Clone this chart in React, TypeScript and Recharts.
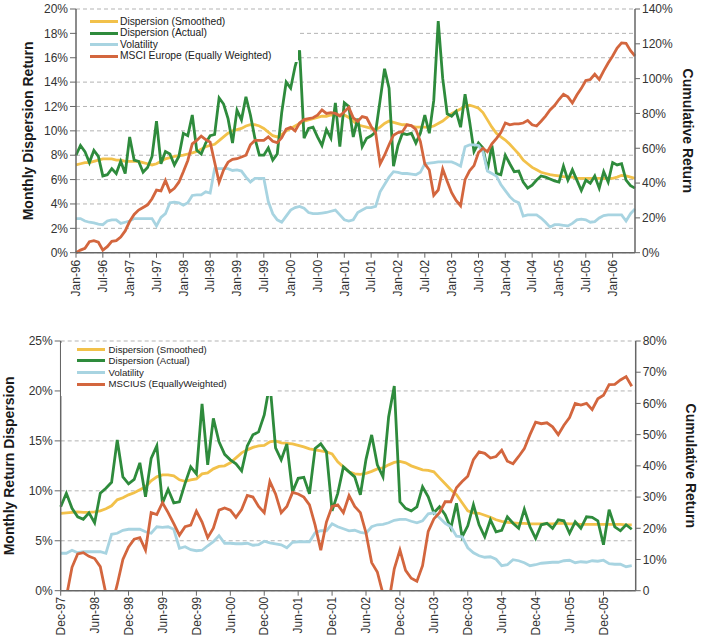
import React from 'react';
import { LineChart, Line, XAxis, YAxis, CartesianGrid, Legend } from 'recharts';

const FONT = '"Liberation Sans", Arial, Helvetica, sans-serif';
const C_SMOOTH = '#F2C14A';
const C_ACTUAL = '#2E8B3C';
const C_VOL = '#A8D4E1';
const C_MSCI = '#D3663E';
const SERIES_COLORS = [C_SMOOTH, C_ACTUAL, C_VOL, C_MSCI];
const AXIS = '#666';
const GRID = '#b3b3b3';
const LW = 2.8;

// ---------- Top chart (Europe) ----------
const topTickLabels = ['Jan-96','Jul-96','Jan-97','Jul-97','Jan-98','Jul-98','Jan-99','Jul-99','Jan-00','Jul-00','Jan-01','Jul-01','Jan-02','Jul-02','Jan-03','Jul-03','Jan-04','Jul-04','Jan-05','Jul-05','Jan-06'];
const topLeftTicks = [0, 2, 4, 6, 8, 10, 12, 14, 16, 18, 20];
const topRightTicks = [0, 20, 40, 60, 80, 100, 120, 140];
const topNames = ['Dispersion (Smoothed)', 'Dispersion (Actual)', 'Volatility', 'MSCI Europe (Equally Weighted)'];

const topSmoothed = [
  7.2, 7.3, 7.4, 7.4, 7.5, 7.6, 7.7, 7.7, 7.7, 7.6, 7.6, 7.5,
  7.5, 7.5, 7.5, 7.4, 7.3, 7.2, 7.3, 7.5, 7.7, 7.8, 7.9, 7.95,
  8.0, 8.1, 8.2, 8.3, 8.5, 8.7, 8.8, 8.9, 9.2, 9.5, 9.8, 10.0,
  10.1, 10.2, 10.4, 10.5, 10.5, 10.4, 10.2, 9.9, 9.6, 9.5, 9.7, 10.0,
  10.2, 10.4, 10.6, 10.8, 10.9, 11.0, 11.1, 11.2, 11.2, 11.3, 11.3, 11.3,
  11.3, 11.1, 10.8, 10.5, 10.4, 10.3, 10.2, 10.1, 10.3, 10.6, 10.8, 10.7,
  10.6, 10.5, 10.5, 10.4, 10.3, 10.3, 10.3, 10.3, 10.4, 10.6, 10.8, 11.1,
  11.4, 11.6, 11.8, 12.0, 12.1, 12.0, 11.85, 11.5, 10.9, 10.3, 9.8, 9.5,
  9.25, 8.9, 8.5, 8.1, 7.6, 7.3, 7.0, 6.8, 6.6, 6.5, 6.4, 6.35,
  6.3, 6.25, 6.2, 6.2, 6.1, 6.1, 6.1, 6.1, 6.1, 6.1, 6.1, 6.1,
  6.1, 6.2, 6.35, 6.3, 6.2, 6.1,
];
const topActual = [
  8.0, 8.8, 8.3, 7.4, 8.4, 7.9, 6.3, 6.4, 6.9, 6.5, 7.5, 6.5,
  9.5, 7.6, 7.5, 6.6, 7.0, 7.9, 10.8, 7.3, 8.3, 8.1, 7.2, 7.9,
  9.8, 9.6, 11.3, 8.4, 8.1, 9.0, 9.6, 9.7, 12.7, 12.2, 11.0, 9.0,
  11.7, 10.9, 12.8, 11.3, 9.4, 8.0, 8.0, 8.6, 7.6, 8.1, 11.5, 14.0,
  13.5, 15.3, 16.6, 9.4, 10.2, 10.3, 9.5, 8.8, 10.1, 9.4, 12.3, 8.7,
  12.3, 12.0, 9.5, 11.0, 8.7, 9.4, 9.6, 9.9, 12.5, 15.1, 13.5, 7.1,
  8.8, 9.8, 9.7, 9.8, 9.0, 9.8, 11.3, 9.8, 12.5, 19.0, 14.3, 11.4,
  11.2, 11.6, 10.3, 13.0, 10.8, 8.3, 9.0, 8.6, 6.8, 8.8, 6.5, 6.4,
  8.0, 7.3, 6.65, 6.7, 5.8, 5.3, 5.55, 5.96, 6.3, 6.2, 6.05, 5.9,
  5.8, 7.1, 5.96, 6.8, 5.96, 5.1, 5.96, 5.7, 6.3, 5.3, 6.65, 5.8,
  7.4, 7.2, 7.3, 5.96, 5.5, 5.3,
];
const topVolatility = [
  2.8, 2.8, 2.6, 2.5, 2.45, 2.35, 2.3, 2.6, 2.7, 2.7, 2.4, 2.5,
  2.6, 2.8, 2.8, 2.8, 2.8, 2.8, 2.2, 2.9, 3.2, 4.1, 4.15, 4.1,
  3.9, 4.1, 4.7, 4.75, 4.75, 5.0, 4.9, 6.9, 6.9, 6.9, 6.9, 6.75,
  6.8, 6.7, 6.2, 5.8, 6.1, 6.1, 6.1, 4.2, 3.2, 2.7, 2.5, 3.0,
  3.5, 3.7, 3.8, 3.65, 3.3, 3.2, 3.2, 3.25, 3.3, 3.4, 3.5, 3.1,
  2.7, 2.6, 2.7, 3.3, 3.5, 3.7, 3.7, 3.8, 5.0, 5.6, 6.2, 6.65,
  6.6, 6.5, 6.5, 6.45, 6.4, 6.6, 7.3, 7.35, 7.4, 7.45, 7.45, 7.45,
  7.45, 7.3, 7.1, 8.7, 8.85, 8.85, 8.8, 8.3, 6.7, 6.5, 6.3, 5.6,
  5.1, 4.6, 4.25, 4.1, 3.0, 3.1, 3.1, 3.1, 2.85, 2.5, 2.1, 2.3,
  2.3, 2.25, 2.2, 2.4, 2.7, 2.75, 2.7, 2.5, 2.55, 2.85, 3.05, 3.1,
  3.1, 3.1, 3.1, 2.6, 3.2, 3.6,
];
const topMsci = [
  0, 1.5, 2.5, 6.3, 6.9, 6.0, 1.5, 3.5, 6.5, 6.9, 9.0, 12.5,
  18, 22, 24.5, 26, 27.5, 31, 36, 35.5, 41.5, 35, 37, 40.5,
  46.5, 53, 62.5, 64.5, 67, 65, 63.5, 52, 40.5, 47.5, 52, 53.6,
  54, 55, 56, 62, 64.5, 64.5, 64.5, 66.5, 64, 63.2, 66, 71,
  72, 70, 74.5, 76.5, 77, 77.5, 79, 82, 80, 80.5, 80, 78.5,
  81, 83.5, 77.5, 75.5, 78.2, 77.5, 72.5, 69, 51, 56, 62, 67.5,
  69, 69.5, 73.5, 73, 70.8, 64, 51, 47.5, 33, 36, 48, 41,
  34.5, 30, 27, 42, 47, 50, 57.5, 60, 58, 62.5, 65.5, 69,
  74.5, 73.5, 74, 74, 74.5, 76, 73.5, 72.8, 75.5, 78.5, 82, 84.5,
  88, 91, 89.5, 86, 90.6, 94.4, 98.9, 99.5, 102.5, 99.5, 104.5, 109,
  113, 117.5, 120.5, 120.3, 116, 113,
];

// ---------- Bottom chart (US) ----------
const botTickLabels = ['Dec-97','Jun-98','Dec-98','Jun-99','Dec-99','Jun-00','Dec-00','Jun-01','Dec-01','Jun-02','Dec-02','Jun-03','Dec-03','Jun-04','Dec-04','Jun-05','Dec-05'];
const botLeftTicks = [0, 5, 10, 15, 20, 25];
const botRightTicks = [0, 10, 20, 30, 40, 50, 60, 70, 80];
const botNames = ['Dispersion (Smoothed)', 'Dispersion (Actual)', 'Volatility', 'MSCIUS (EquallyWeighted)'];

const botSmoothed = [
  7.75, 7.8, 7.85, 7.9, 7.85, 7.85, 7.9, 8.0, 8.2, 8.5, 9.1, 9.3,
  9.6, 9.8, 10.1, 10.4, 11.0, 11.4, 11.6, 11.6, 11.5, 11.1, 10.95, 11.1,
  11.2, 11.7, 11.8, 12.2, 12.45, 12.5, 12.8, 13.3, 13.8, 14.1, 14.35, 14.5,
  14.55, 14.9, 15.0, 14.8, 14.75, 14.7, 14.55, 14.4, 14.2, 14.1, 14.0, 13.9,
  13.7, 12.9, 12.4, 11.9, 11.7, 11.65, 11.75, 11.95, 12.2, 12.3, 12.6, 12.85,
  12.95, 12.8, 12.5, 12.3, 12.1, 12.05, 11.9, 11.3, 10.7, 10.1, 9.6, 8.8,
  8.0, 7.8, 7.75, 7.55, 7.35, 7.1, 6.95, 6.85, 6.8, 6.75, 6.75, 6.7,
  6.7, 6.7, 6.7, 6.7, 6.75, 6.75, 6.7, 6.7, 6.65, 6.65, 6.65, 6.65,
  6.65, 6.65, 6.65, 6.65, 6.6, 6.6,
];
const botActual = [
  8.4, 9.75, 8.25, 7.4, 7.15, 7.8, 6.8, 9.75, 10.25, 10.85, 15.1, 11.4,
  10.7, 11.15, 12.8, 9.4, 13.25, 14.5, 8.75, 10.15, 8.8, 8.9, 10.75, 12.4,
  11.7, 18.7, 12.6, 17.25, 14.9, 13.65, 13.1, 12.7, 12.0, 14.5, 15.6, 15.9,
  17.6, 20.8, 14.3, 13.1, 14.7, 9.9, 11.25, 11.35, 9.7, 14.25, 14.7, 13.9,
  8.0, 9.75, 12.4, 11.9, 11.4, 9.6, 13.15, 15.6, 12.6, 11.4, 17.4, 20.5,
  8.9, 8.25, 8.0, 8.4, 10.4, 9.4, 7.8, 8.4, 7.6, 6.25, 8.75, 5.4,
  6.5, 8.6, 6.6, 5.4, 7.1, 5.9, 6.05, 7.4, 6.75, 6.25, 8.15, 6.4,
  5.25, 6.6, 6.75, 6.25, 7.1, 7.0, 5.75, 6.9, 6.25, 7.4, 7.35, 7.0,
  4.6, 8.1, 6.4, 6.0, 6.6, 6.15,
];
const botVolatility = [
  3.75, 3.75, 4.05, 3.8, 3.9, 3.9, 3.9, 3.9, 3.75, 5.65, 5.75, 6.05,
  6.15, 6.15, 6.15, 5.9, 5.75, 6.4, 6.35, 6.4, 6.15, 4.25, 4.4, 4.1,
  4.0, 4.05, 4.5, 4.9, 5.5, 4.75, 4.75, 4.7, 4.7, 4.75, 4.55, 4.6,
  4.95, 4.8, 4.7, 4.6, 4.3, 4.85, 4.9, 4.9, 4.9, 5.8, 6.0, 6.0,
  6.7, 6.4, 6.2, 6.0, 6.05, 5.85, 5.75, 6.4, 6.6, 6.65, 6.8, 7.05,
  7.15, 7.15, 6.95, 6.8, 7.0, 7.7, 7.8, 7.3, 6.75, 6.4, 5.45, 5.4,
  4.3, 3.8, 3.5, 3.35, 3.4, 3.15, 2.5, 2.6, 3.1, 3.0, 2.8, 2.5,
  2.6, 2.75, 2.8, 2.85, 2.85, 3.0, 3.05, 2.8, 2.9, 2.85, 3.0, 2.95,
  3.05, 2.7, 2.65, 2.65, 2.4, 2.5,
];
const botMsci = [
  -5, -2, 7.5, 11.8, 12.2, 11, 10.3, 7.7, -1, -5, 2, 10,
  14, 16.5, 17, 13, 25, 24.4, 28.2, 25, 21.5, 17.8, 20.5, 21,
  25.5, 22, 17, 20, 25.8, 26.5, 25.8, 23.5, 26, 30.5, 30, 27,
  25, 35, 31, 25, 27, 31.5, 31, 30, 27.5, 21, 13, 22,
  27, 27.5, 25, 30.5, 27, 25, 18.5, 9, 6, -1, -4, 7,
  13, 6.5, 4, 3, 8, 19, 23, 25, 28.5, 28.5, 33, 35,
  36.7, 42, 44.5, 44, 42.5, 43, 45, 41.5, 40.7, 43, 45.5, 50,
  54, 53.5, 53.8, 52.5, 50, 53, 55.5, 60, 59.5, 60, 58, 61.5,
  62.6, 66, 66.1, 67.5, 68.6, 65.5,
];

const topData = topSmoothed.map((v, i) => ({ i, s: v, a: topActual[i], v: topVolatility[i], m: topMsci[i] }));
const botData = botSmoothed.map((v, i) => ({ i, s: v, a: botActual[i], v: botVolatility[i], m: botMsci[i] }));
const topTicks = topTickLabels.map((_, k) => k * 6);
const botTicks = botTickLabels.map((_, k) => k * 6);

const pct = (v: number) => `${v}%`;

const makeXTick = (labels: string[]) => (props: any) => {
  const { x, y, payload } = props;
  const label = labels[Math.round(payload.value / 6)];
  return (
    <text x={x} y={y} transform={`rotate(-90, ${x}, ${y})`} textAnchor="end" dy="0.35em" fontSize={12} fill="#333" fontFamily={FONT}>
      {label}
    </text>
  );
};

const makeTitle = (text: string, dx: number, rot: number) => (props: any) => {
  const vb = props.viewBox || { x: 0, y: 0, width: 0, height: 0 };
  const cx = vb.x + dx;
  const cy = vb.y + vb.height / 2;
  return (
    <text x={cx} y={cy} transform={`rotate(${rot}, ${cx}, ${cy})`} textAnchor="middle" dominantBaseline="central" fontSize={14} fontWeight="bold" fill="#1a1a1a" fontFamily={FONT}>
      {text}
    </text>
  );
};

const makeLegend = (names: string[], o: { w: number; h: number; pt: number; pl: number; rowH: number; lineW: number; gap: number; fs: number }) => () => (
  <div style={{ background: '#fff', width: o.w, height: o.h, boxSizing: 'border-box', paddingTop: o.pt, paddingLeft: o.pl, fontFamily: FONT }}>
    {names.map((name, k) => (
      <div key={name} style={{ display: 'flex', alignItems: 'center', height: o.rowH }}>
        <span style={{ display: 'inline-block', width: o.lineW, height: 3, background: SERIES_COLORS[k], marginRight: o.gap }} />
        <span style={{ fontSize: o.fs, color: '#222', lineHeight: 1, whiteSpace: 'nowrap' }}>{name}</span>
      </div>
    ))}
  </div>
);

const tickStyle = { fill: '#333', fontSize: 12, fontFamily: FONT };
const axisLine = { stroke: AXIS, strokeWidth: 1.5 };
const tickLine = { stroke: AXIS, strokeWidth: 1 };

export default function App() {
  return (
    <div style={{ position: 'absolute', left: 0, top: 0, width: 703, height: 641, background: '#fff', fontFamily: FONT, overflow: 'hidden' }}>
      <div style={{ position: 'absolute', left: 0, top: 0 }}>
        <LineChart width={703} height={320} data={topData} margin={{ top: 9, right: 0, bottom: 0, left: 0 }}>
          <CartesianGrid yAxisId="left" vertical={false} stroke={GRID} strokeDasharray="4 3" />
          <XAxis dataKey="i" type="number" domain={[0, 125]} ticks={topTicks} interval={0} height={67.3}
            tick={makeXTick(topTickLabels)} tickSize={5} tickMargin={2} axisLine={axisLine} tickLine={tickLine} />
          <YAxis yAxisId="left" domain={[0, 20]} ticks={topLeftTicks} interval={0} tickFormatter={pct} width={76}
            tick={tickStyle} tickSize={6} tickMargin={2} axisLine={axisLine} tickLine={tickLine}
            label={makeTitle('Monthly Dispersion Return', 28, -90)} />
          <YAxis yAxisId="right" orientation="right" domain={[0, 140]} ticks={topRightTicks} interval={0} tickFormatter={pct} width={68}
            tick={tickStyle} tickSize={5} tickMargin={2} axisLine={axisLine} tickLine={tickLine}
            label={makeTitle('Cumulative Return', 52.5, 90)} />
          <Legend layout="vertical" verticalAlign="middle" align="center"
            wrapperStyle={{ left: 77, top: 12, width: 221, height: 50 }}
            content={makeLegend(topNames, { w: 221, h: 50, pt: 4.2, pl: 13, rowH: 11.4, lineW: 27.5, gap: 2.5, fs: 10.3 })} />
          <Line yAxisId="left" dataKey="s" name={topNames[0]} stroke={C_SMOOTH} strokeWidth={LW} dot={false} isAnimationActive={false} />
          <Line yAxisId="left" dataKey="a" name={topNames[1]} stroke={C_ACTUAL} strokeWidth={LW} dot={false} isAnimationActive={false} />
          <Line yAxisId="left" dataKey="v" name={topNames[2]} stroke={C_VOL} strokeWidth={LW} dot={false} isAnimationActive={false} />
          <Line yAxisId="right" dataKey="m" name={topNames[3]} stroke={C_MSCI} strokeWidth={LW} dot={false} isAnimationActive={false} />
        </LineChart>
      </div>
      <div style={{ position: 'absolute', left: 0, top: 320 }}>
        <LineChart width={703} height={321} data={botData} margin={{ top: 21, right: 0, bottom: 0, left: 0 }}>
          <CartesianGrid yAxisId="left" vertical={false} stroke={GRID} strokeDasharray="4 3" />
          <XAxis dataKey="i" type="number" domain={[0, 101.7]} ticks={botTicks} interval={0} height={50.3}
            tick={makeXTick(botTickLabels)} tickSize={5} tickMargin={1} axisLine={axisLine} tickLine={tickLine} />
          <YAxis yAxisId="left" domain={[0, 25]} ticks={botLeftTicks} interval={0} tickFormatter={pct} width={60.7}
            tick={tickStyle} tickSize={6} tickMargin={2} axisLine={axisLine} tickLine={tickLine}
            label={makeTitle('Monthly Return Dispersion', 9.5, -90)} />
          <YAxis yAxisId="right" orientation="right" domain={[0, 80]} ticks={botRightTicks} interval={0} allowDataOverflow
            tickFormatter={(v: number) => (v === 0 ? '0' : `${v}%`)} width={67.3}
            tick={tickStyle} tickSize={5} tickMargin={2} axisLine={axisLine} tickLine={tickLine}
            label={makeTitle('Cumulative Return', 55.5, 90)} />
          <Legend layout="vertical" verticalAlign="middle" align="center"
            wrapperStyle={{ left: 61, top: 23, width: 214, height: 53 }}
            content={makeLegend(botNames, { w: 214, h: 53, pt: 0.6, pl: 16, rowH: 11.6, lineW: 28.3, gap: 3.3, fs: 9.6 })} />
          <Line yAxisId="left" dataKey="s" name={botNames[0]} stroke={C_SMOOTH} strokeWidth={LW} dot={false} isAnimationActive={false} />
          <Line yAxisId="left" dataKey="a" name={botNames[1]} stroke={C_ACTUAL} strokeWidth={LW} dot={false} isAnimationActive={false} />
          <Line yAxisId="left" dataKey="v" name={botNames[2]} stroke={C_VOL} strokeWidth={LW} dot={false} isAnimationActive={false} />
          <Line yAxisId="right" dataKey="m" name={botNames[3]} stroke={C_MSCI} strokeWidth={LW} dot={false} isAnimationActive={false} />
        </LineChart>
      </div>
    </div>
  );
}
